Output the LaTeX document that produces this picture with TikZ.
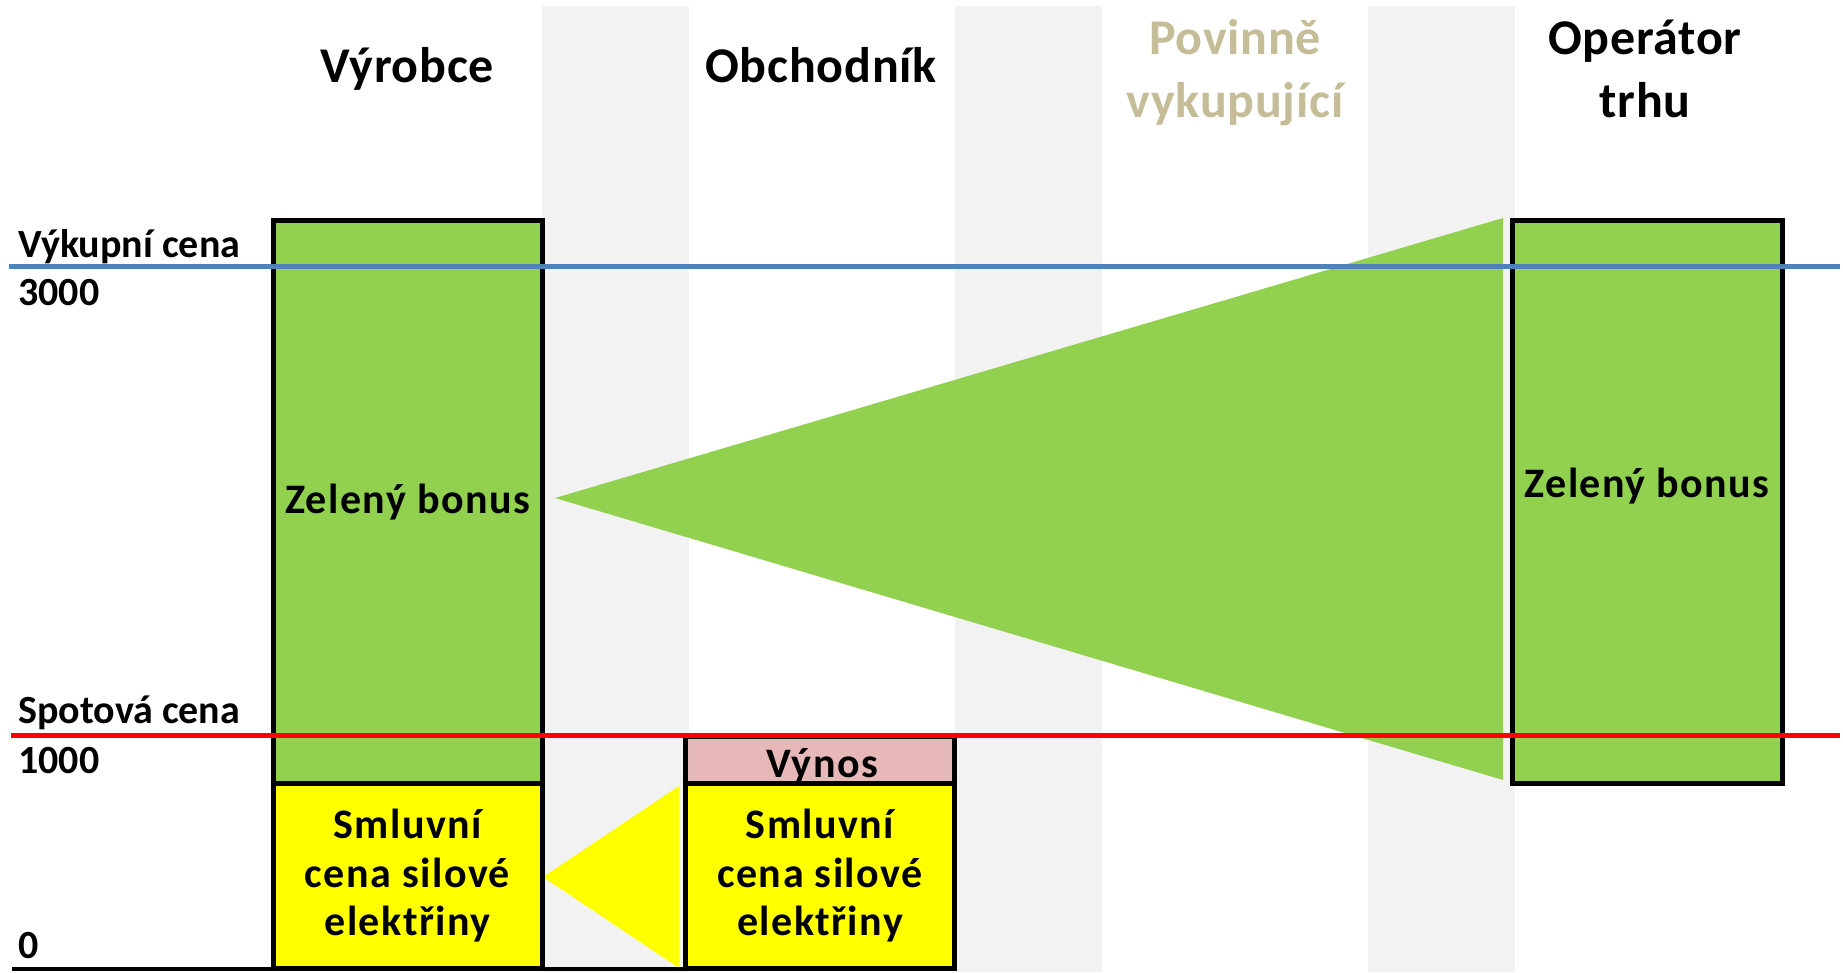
\documentclass[tikz,border=0pt]{standalone}
\usepackage{fontspec}
\setmainfont{Carlito}
\newfontfamily\txtfam[LetterSpace=3.5]{Carlito}
\newfontfamily\hdfam[LetterSpace=1.5]{Carlito}
\definecolor{zelena}{HTML}{92D050}
\definecolor{zluta}{HTML}{FFFF00}
\definecolor{ruzova}{HTML}{E6B9B8}
\definecolor{pruh}{HTML}{F2F2F2}
\definecolor{modra}{HTML}{4F81BD}
\definecolor{bezova}{HTML}{C4BD97}
\newcommand\hdfont{\hdfam\fontsize{50}{63}\selectfont\bfseries}
\newcommand\txtfont{\txtfam\fontsize{42}{48.5}\selectfont\bfseries}
\newcommand\lblfont{\fontsize{40}{48}\selectfont\bfseries}
\begin{document}
\begin{tikzpicture}[x=1pt,y=-1pt,line join=miter,
	box/.style={draw=black,line width=5pt,inner sep=0pt,align=center,font=\txtfont},
	head/.style={anchor=base,align=center,font=\hdfont,inner sep=0pt},
	lbl/.style={anchor=base west,font=\lblfont,inner sep=0pt},
	cena/.style={line width=5pt}]
	\useasboundingbox (0,0) rectangle (1843,972);
	% pruhy v pozadi
	\foreach \x in {542,955,1368}
		\fill[pruh] (\x,6) rectangle ++(147,966);
	% trojuhelniky (toky penez)
	\fill[zelena] (555,498) -- (1503,218) -- (1503,780) -- cycle;
	\fill[zluta] (543,877) -- (679,786) -- (679,968) -- cycle;
	% sloupce
	\node[box,fill=zelena,minimum width=269pt,minimum height=563pt] (vyrzb) at (407.5,502) {Zelený bonus};
	\node[box,fill=zluta,minimum width=269pt,minimum height=185.5pt] (vyrsm) at (407.5,876) {Smluvní\\cena silové\\elektřiny};
	\node[box,fill=ruzova,minimum width=268.5pt,minimum height=46.5pt] (obvy) at (820,760) {};
	\node[box,fill=zluta,minimum width=268.5pt,minimum height=185.5pt] (obsm) at (820,876) {Smluvní\\cena silové\\elektřiny};
	\node[box,fill=zelena,minimum width=270pt,minimum height=563pt] (opzb) at (1647,502) {};
	\node[anchor=base,font=\txtfont,inner sep=0pt] (vynos) at (822,777) {Výnos};
	\node[anchor=base,font=\txtfont,inner sep=0pt] (opbonus) at (1647,497) {Zelený bonus};
	% osa a cenove hladiny
	\coordinate (osaL) at (12,969);
	\coordinate (osaR) at (957,969);
	\draw[line width=4pt] (osaL) -- (osaR);
	\coordinate (vkL) at (9,266);
	\coordinate (vkR) at (1840,266);
	\draw[cena,modra] (vkL) -- (vkR);
	\coordinate (spL) at (11,735.5);
	\coordinate (spR) at (1840,735.5);
	\draw[cena,red] (spL) -- (spR);
	% popisky
	\node[lbl] (vkcena) at (18,257) {Výkupní cena};
	\node[lbl] (v3000) at (18,305) {3000};
	\node[lbl] (spcena) at (18,723) {Spotová cena};
	\node[lbl] (v1000) at (18,773) {1000};
	\node[lbl] (v0) at (18,958) {0};
	% zahlavi
	\node[head] (hvyr) at (407,82) {Výrobce};
	\node[head] (hobch) at (821,82) {Obchodník};
	\node[head,text=bezova] (hpov) at (1235,117) {Povinně\\vykupující};
	\node[head] (hop) at (1645,117) {Operátor\\trhu};
\end{tikzpicture}
\end{document}
